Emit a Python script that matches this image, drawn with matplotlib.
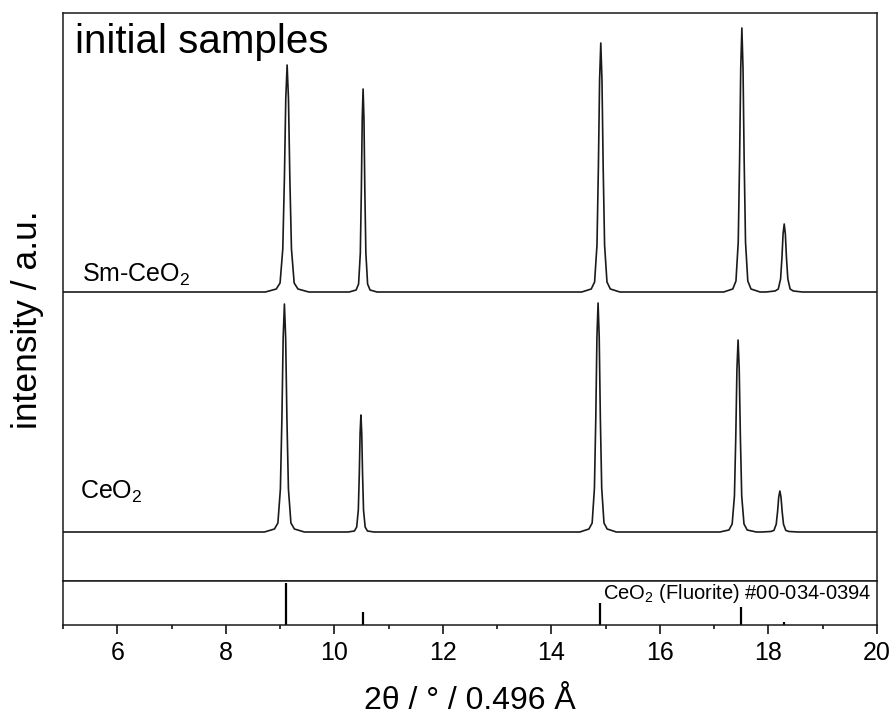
import matplotlib
matplotlib.use("Agg")
import matplotlib.pyplot as plt

plt.rcParams['font.family'] = ['Liberation Sans', 'DejaVu Sans']
plt.rcParams['mathtext.fontset'] = 'custom'
plt.rcParams['mathtext.rm'] = 'Liberation Sans'
plt.rcParams['mathtext.it'] = 'Liberation Sans:italic'

# ---- data (2theta in degrees, intensity in a.u.) ----
ceo2_x = [5.0,
          8.712, 8.896, 8.960, 9.006, 9.034, 9.057, 9.080, 9.103, 9.126, 9.154, 9.200, 9.264, 9.448,
          10.25, 10.37, 10.412, 10.442, 10.46, 10.475, 10.49, 10.505, 10.52, 10.538, 10.568, 10.61, 10.73,
          14.524, 14.692, 14.751, 14.793, 14.818, 14.839, 14.86, 14.881, 14.902, 14.927, 14.969, 15.028, 15.196,
          17.104, 17.272, 17.331, 17.373, 17.398, 17.419, 17.44, 17.461, 17.482, 17.507, 17.549, 17.608, 17.776,
          17.874, 18.042, 18.101, 18.143, 18.168, 18.189, 18.21, 18.231, 18.252, 18.277, 18.319, 18.378, 18.546,
          20.0]
ceo2_y = [0,
          0, 3, 9, 43, 114, 194, 228, 194, 114, 43, 9, 3, 0,
          0, 1, 5, 22, 58, 99, 117, 99, 58, 22, 5, 1, 0,
          0, 3, 9, 44, 114, 195, 229, 195, 114, 44, 9, 3, 0,
          0, 2, 8, 36, 96, 163, 192, 163, 96, 36, 8, 2, 0,
          0, 0.5, 1.6, 7.8, 20.5, 34.9, 41, 34.9, 20.5, 7.8, 1.6, 0.5, 0,
          0]

sm_x = [5.0,
        8.73, 8.93, 9.00, 9.05, 9.08, 9.105, 9.13, 9.155, 9.18, 9.21, 9.26, 9.33, 9.53,
        10.274, 10.402, 10.447, 10.479, 10.498, 10.514, 10.53, 10.546, 10.562, 10.581, 10.613, 10.658, 10.786,
        14.558, 14.734, 14.796, 14.84, 14.866, 14.888, 14.91, 14.932, 14.954, 14.98, 15.024, 15.086, 15.262,
        17.174, 17.342, 17.401, 17.443, 17.468, 17.489, 17.51, 17.531, 17.552, 17.577, 17.619, 17.678, 17.846,
        17.954, 18.122, 18.181, 18.223, 18.248, 18.269, 18.29, 18.311, 18.332, 18.357, 18.399, 18.458, 18.626,
        20.0]
sm_y = [0,
        0, 3, 9, 43, 114, 193, 227, 193, 114, 43, 9, 3, 0,
        0, 2, 8, 39, 102, 173, 203, 173, 102, 39, 8, 2, 0,
        0, 3, 10, 47, 125, 212, 249, 212, 125, 47, 10, 3, 0,
        0, 3, 11, 50, 132, 224, 264, 224, 132, 50, 11, 3, 0,
        0, 1, 3, 13, 34, 58, 68, 58, 34, 13, 3, 1, 0,
        0]

offsets = {"CeO2": 49, "Sm-CeO2": 289}

ref_pos = [9.107, 10.52, 14.90, 17.49, 18.28]
ref_int = [100, 30, 52, 42, 8]

major_ticks = [6, 8, 10, 12, 14, 16, 18, 20]
minor_ticks = [5, 7, 9, 11, 13, 15, 17, 19]

# ---- figure ----
fig = plt.figure(figsize=(8.96, 7.26), dpi=100)
L, R = 63 / 896, 877 / 896
main_top, main_bot, ref_bot = 1 - 13 / 726, 1 - 581 / 726, 1 - 625 / 726
ax = fig.add_axes([L, main_bot, R - L, main_top - main_bot])
ax2 = fig.add_axes([L, ref_bot, R - L, main_bot - ref_bot], sharex=ax)

lc = '#1a1a1a'
ax.plot(ceo2_x, [v + offsets["CeO2"] for v in ceo2_y], color=lc, lw=1.2)
ax.plot(sm_x, [v + offsets["Sm-CeO2"] for v in sm_y], color=lc, lw=1.2)

ax.set_xlim(5, 20)
ax.set_ylim(0, 568)
ax.tick_params(left=False, labelleft=False, bottom=False, labelbottom=False)

ax.text(5.22, 528, "initial samples", fontsize=29, va='baseline', ha='left')
ax.text(5.35, 299, r"Sm-CeO$_2$", fontsize=18, va='baseline', ha='left')
ax.text(5.32, 82, r"CeO$_2$", fontsize=18, va='baseline', ha='left')
fig.text(28 / 896, 1 - 320 / 726, "intensity / a.u.", fontsize=25.5,
         rotation=90, ha='center', va='center')

ax2.vlines(ref_pos, 0, ref_int, color='black', lw=1.6)
ax2.set_ylim(0, 104.8)
ax2.tick_params(left=False, labelleft=False)
ax2.text(14.95, 0.59, r"CeO$_2$ (Fluorite) #00-034-0394", fontsize=14.5,
         transform=ax2.get_xaxis_transform(), va='baseline', ha='left')

ax2.set_xticks(major_ticks)
ax2.set_xticks(minor_ticks, minor=True)
ax2.tick_params(axis='x', which='major', direction='out', length=6.5, width=1.1,
                labelsize=18, pad=5)
ax2.tick_params(axis='x', which='minor', direction='out', length=3.2, width=1.1)
ax2.set_xlabel("2θ / ° / 0.496 Å", fontsize=23, labelpad=15)

for a in (ax, ax2):
    for s in a.spines.values():
        s.set_linewidth(1.1)
        s.set_color('#1a1a1a')

fig.savefig("out.png", dpi=100)
